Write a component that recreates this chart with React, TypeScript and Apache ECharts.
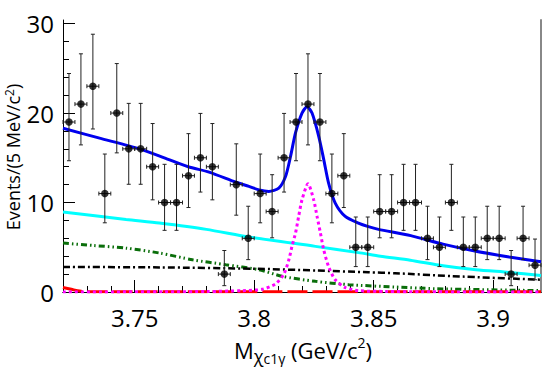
import { useEffect, useRef } from "react";
import * as echarts from "echarts";

// ---- data ----
const binCenters = [
  3.7225, 3.7275, 3.7325, 3.7375, 3.7425, 3.7475, 3.7525, 3.7575, 3.7625, 3.7675,
  3.7725, 3.7775, 3.7825, 3.7875, 3.7925, 3.7975, 3.8025, 3.8075, 3.8125, 3.8175,
  3.8225, 3.8275, 3.8325, 3.8375, 3.8425, 3.8475, 3.8525, 3.8575, 3.8625, 3.8675,
  3.8725, 3.8775, 3.8825, 3.8875, 3.8925, 3.8975, 3.9025, 3.9075, 3.9125, 3.9175,
];
const counts = [
  19, 21, 23, 11, 20, 16, 16, 14, 10, 10,
  13, 15, 14, 2, 12, 6, 11, 9, 15, 19,
  21, 19, 11, 13, 5, 5, 9, 9, 10, 10,
  6, 5, 10, 5, 5, 6, 6, 2, 6, 3,
];
// 68.27% Poisson interval bounds, indexed by observed count n
const poissonLow = [
  0, 0.173, 0.708, 1.367, 2.086, 2.84, 3.62, 4.419, 5.232, 6.057, 6.891, 7.734,
  8.585, 9.441, 10.3, 11.17, 12.04, 12.92, 13.79, 14.67, 15.55, 16.44, 17.33, 18.22,
];
const poissonHigh = [
  1.841, 3.3, 4.638, 5.918, 7.163, 8.382, 9.584, 10.77, 11.95, 13.11, 14.27, 15.42,
  16.56, 17.7, 18.83, 19.96, 21.08, 22.2, 23.32, 24.42, 25.53, 26.62, 27.72, 28.81,
];
const binHalfWidth = 0.0025;

const totalFit = [
  [3.72, 18.3], [3.7353, 17.2], [3.752, 16.0], [3.7624, 15.0], [3.7724, 14.0],
  [3.7811, 13.4], [3.7921, 12.3], [3.7978, 11.8], [3.8021, 11.4], [3.8061, 11.24],
  [3.8103, 11.6], [3.8131, 12.9], [3.8152, 15.15], [3.8173, 17.8], [3.82, 20.0],
  [3.8221, 20.7], [3.8242, 20.0], [3.827, 17.4], [3.8291, 14.8], [3.8311, 12.2],
  [3.8339, 9.94], [3.8381, 8.45], [3.8436, 7.7], [3.8478, 7.3], [3.852, 7.0],
  [3.8655, 6.3], [3.879, 5.35], [3.8928, 4.55], [3.9067, 3.92], [3.92, 3.39],
];
const bkgCyan = [
  [3.72, 8.94], [3.7464, 8.1], [3.7603, 7.7], [3.78, 7.0], [3.7978, 6.15],
  [3.8256, 5.1], [3.8436, 4.4], [3.8528, 4.0], [3.8653, 3.55], [3.879, 2.94],
  [3.8928, 2.49], [3.9067, 2.19], [3.92, 1.85],
];
const bkgGreen = [
  [3.72, 5.47], [3.7325, 5.2], [3.7464, 4.9], [3.7603, 4.36], [3.7742, 3.6],
  [3.7881, 3.05], [3.802, 2.49], [3.8117, 1.75], [3.8256, 1.19], [3.8395, 0.82],
  [3.8589, 0.56], [3.8756, 0.37], [3.92, 0.15],
];
const bkgBlack = [
  [3.72, 2.8], [3.7603, 2.75], [3.8, 2.6], [3.8264, 2.4], [3.8478, 2.2],
  [3.8589, 2.1], [3.8825, 1.78], [3.92, 1.37],
];
const bkgRed = [
  [3.72, 0.5], [3.7235, 0.3], [3.727, 0.1], [3.73, 0.04], [3.78, 0.02], [3.92, 0.02],
];
const signal = [
  [3.72, 0.0], [3.78, 0.05], [3.795, 0.15], [3.8033, 0.3], [3.8089, 0.9],
  [3.8124, 2.0], [3.8145, 3.6], [3.8158, 5.1], [3.8173, 6.6], [3.8186, 8.45],
  [3.82, 10.3], [3.8225, 12.1], [3.8249, 10.3], [3.8263, 8.45], [3.8277, 6.6],
  [3.8291, 4.7], [3.8311, 2.86], [3.8339, 1.37], [3.8381, 0.5], [3.8436, 0.15],
  [3.855, 0.06], [3.87, 0.02], [3.92, 0.0],
];

const xMin = 3.72;
const xMax = 3.92;
const yMin = 0;
const yMax = 30.4;
const xTicksMajor = [3.75, 3.8, 3.85, 3.9];
const xTicksMinor = [3.73, 3.74, 3.76, 3.77, 3.78, 3.79, 3.81, 3.82, 3.83, 3.84, 3.86, 3.87, 3.88, 3.89, 3.91];
const yTicksMajor = [0, 10, 20, 30];
const yTicksMinor = [2, 4, 6, 8, 12, 14, 16, 18, 22, 24, 26, 28];

const FONT = "'Open Sans', 'Noto Sans', sans-serif";

export default function App() {
  const ref = useRef<HTMLDivElement>(null);
  useEffect(() => {
    if (!ref.current) return;
    const chart = echarts.init(ref.current, undefined, { renderer: "svg" });
    const points = binCenters.map((x, i) => [x, counts[i]]);
    const errData = binCenters.map((x, i) => {
      const n = counts[i];
      return [x, n, n - poissonLow[n], poissonHigh[n] - n];
    });
    const fmtX = (v: number) => String(Math.round(v * 100) / 100);
    const lineSeries = (data: number[][], color: string, width: number, type: any, z: number) => ({
      type: "line",
      data,
      showSymbol: false,
      smooth: 0.25,
      xAxisIndex: 0,
      yAxisIndex: 0,
      lineStyle: { color, width, type },
      z,
      silent: true,
    });
    chart.setOption({
      animation: false,
      grid: { left: 63, right: 4, top: 20, bottom: 75 },
      xAxis: [
        {
          type: "value",
          min: xMin,
          max: xMax,
          position: "bottom",
          axisLine: { show: true, lineStyle: { color: "#000", width: 1 } },
          axisTick: { show: true, inside: true, length: 12, customValues: xTicksMajor, lineStyle: { color: "#000" } },
          axisLabel: {
            customValues: xTicksMajor,
            formatter: fmtX,
            fontFamily: FONT,
            fontSize: 24,
            color: "#000",
            margin: 13,
          },
          splitLine: { show: false },
        },
        {
          type: "value",
          min: xMin,
          max: xMax,
          position: "bottom",
          axisLine: { show: false },
          axisTick: { show: true, inside: true, length: 6, customValues: xTicksMinor, lineStyle: { color: "#000" } },
          axisLabel: { show: false },
          splitLine: { show: false },
        },
        {
          type: "value",
          min: xMin,
          max: xMax,
          position: "top",
          axisLine: { show: true, lineStyle: { color: "#000", width: 1 } },
          axisTick: { show: false },
          axisLabel: { show: false },
          splitLine: { show: false },
        },
      ],
      yAxis: [
        {
          type: "value",
          min: yMin,
          max: yMax,
          position: "left",
          axisLine: { show: true, lineStyle: { color: "#000", width: 1 } },
          axisTick: { show: true, inside: true, length: 12, customValues: yTicksMajor, lineStyle: { color: "#000" } },
          axisLabel: {
            customValues: yTicksMajor,
            fontFamily: FONT,
            fontSize: 24,
            color: "#000",
            margin: 9,
          },
          splitLine: { show: false },
        },
        {
          type: "value",
          min: yMin,
          max: yMax,
          position: "left",
          axisLine: { show: false },
          axisTick: { show: true, inside: true, length: 6, customValues: yTicksMinor, lineStyle: { color: "#000" } },
          axisLabel: { show: false },
          splitLine: { show: false },
        },
        {
          type: "value",
          min: yMin,
          max: yMax,
          position: "right",
          axisLine: { show: true, lineStyle: { color: "#888", width: 2 } },
          axisTick: { show: false },
          axisLabel: { show: false },
          splitLine: { show: false },
        },
      ],
      series: [
        lineSeries(bkgCyan, "#00ffff", 3, "solid", 2),
        lineSeries(bkgGreen, "#0a6e0a", 3, [6, 3, 1.5, 3, 1.5, 3], 2),
        lineSeries(bkgBlack, "#000000", 2.5, [7, 3, 2, 3], 2),
        lineSeries(bkgRed, "#ff0000", 3, [20, 5], 2),
        lineSeries(signal, "#ff00ff", 3, [3, 3], 2),
        lineSeries(totalFit, "#0000ee", 3, "solid", 3),
        {
          type: "custom",
          xAxisIndex: 0,
          yAxisIndex: 0,
          data: errData,
          z: 4,
          silent: true,
          renderItem: (params: any, api: any) => {
            const x = api.value(0);
            const y = api.value(1);
            const lo = api.value(2);
            const hi = api.value(3);
            const c = api.coord([x, y]);
            const top = api.coord([x, y + hi]);
            const bot = api.coord([x, y - lo]);
            const left = api.coord([x - binHalfWidth, y]);
            const right = api.coord([x + binHalfWidth, y]);
            const st = { stroke: "#222", lineWidth: 1 };
            const cap = 2;
            return {
              type: "group",
              children: [
                { type: "line", shape: { x1: c[0], y1: top[1], x2: c[0], y2: bot[1] }, style: st },
                { type: "line", shape: { x1: c[0] - cap, y1: top[1], x2: c[0] + cap, y2: top[1] }, style: st },
                { type: "line", shape: { x1: c[0] - cap, y1: bot[1], x2: c[0] + cap, y2: bot[1] }, style: st },
                { type: "line", shape: { x1: left[0], y1: c[1], x2: right[0], y2: c[1] }, style: st },
                { type: "line", shape: { x1: left[0], y1: c[1] - cap, x2: left[0], y2: c[1] + cap }, style: st },
                { type: "line", shape: { x1: right[0], y1: c[1] - cap, x2: right[0], y2: c[1] + cap }, style: st },
              ],
            };
          },
        },
        {
          type: "scatter",
          xAxisIndex: 0,
          yAxisIndex: 0,
          data: points,
          symbol: "circle",
          symbolSize: 7.5,
          itemStyle: { color: "#000" },
          z: 5,
          silent: true,
        },
      ],
      graphic: [
        {
          type: "text",
          x: 303,
          y: 350,
          style: {
            text: "{m|M}{chi|χ}{sub|c1γ}{m| (GeV/c}{sup|2}{m|)}",
            align: "center",
            verticalAlign: "middle",
            fill: "#000",
            rich: {
              m: { fontFamily: FONT, fontSize: 22, lineHeight: 30, verticalAlign: "middle", fill: "#000" },
              chi: { fontFamily: FONT, fontSize: 18, lineHeight: 16, verticalAlign: "bottom", fill: "#000" },
              sub: { fontFamily: FONT, fontSize: 14, lineHeight: 13, verticalAlign: "bottom", fill: "#000" },
              sup: { fontFamily: FONT, fontSize: 14, lineHeight: 13, verticalAlign: "top", fill: "#000" },
            },
          },
        },
        {
          type: "text",
          x: 13,
          y: 157,
          rotation: Math.PI / 2,
          style: {
            text: "{m|Events/(5 MeV/c}{sup|2}{m|)}",
            align: "center",
            verticalAlign: "middle",
            fill: "#000",
            rich: {
              m: { fontFamily: FONT, fontSize: 18, lineHeight: 20, verticalAlign: "middle", fill: "#000" },
              sup: { fontFamily: FONT, fontSize: 12, lineHeight: 12, verticalAlign: "top", fill: "#000" },
            },
          },
        },
      ],
    });
    return () => chart.dispose();
  }, []);
  return (
    <div
      ref={ref}
      style={{ position: "absolute", left: 0, top: 0, width: 545, height: 367, background: "#fff" }}
    />
  );
}
